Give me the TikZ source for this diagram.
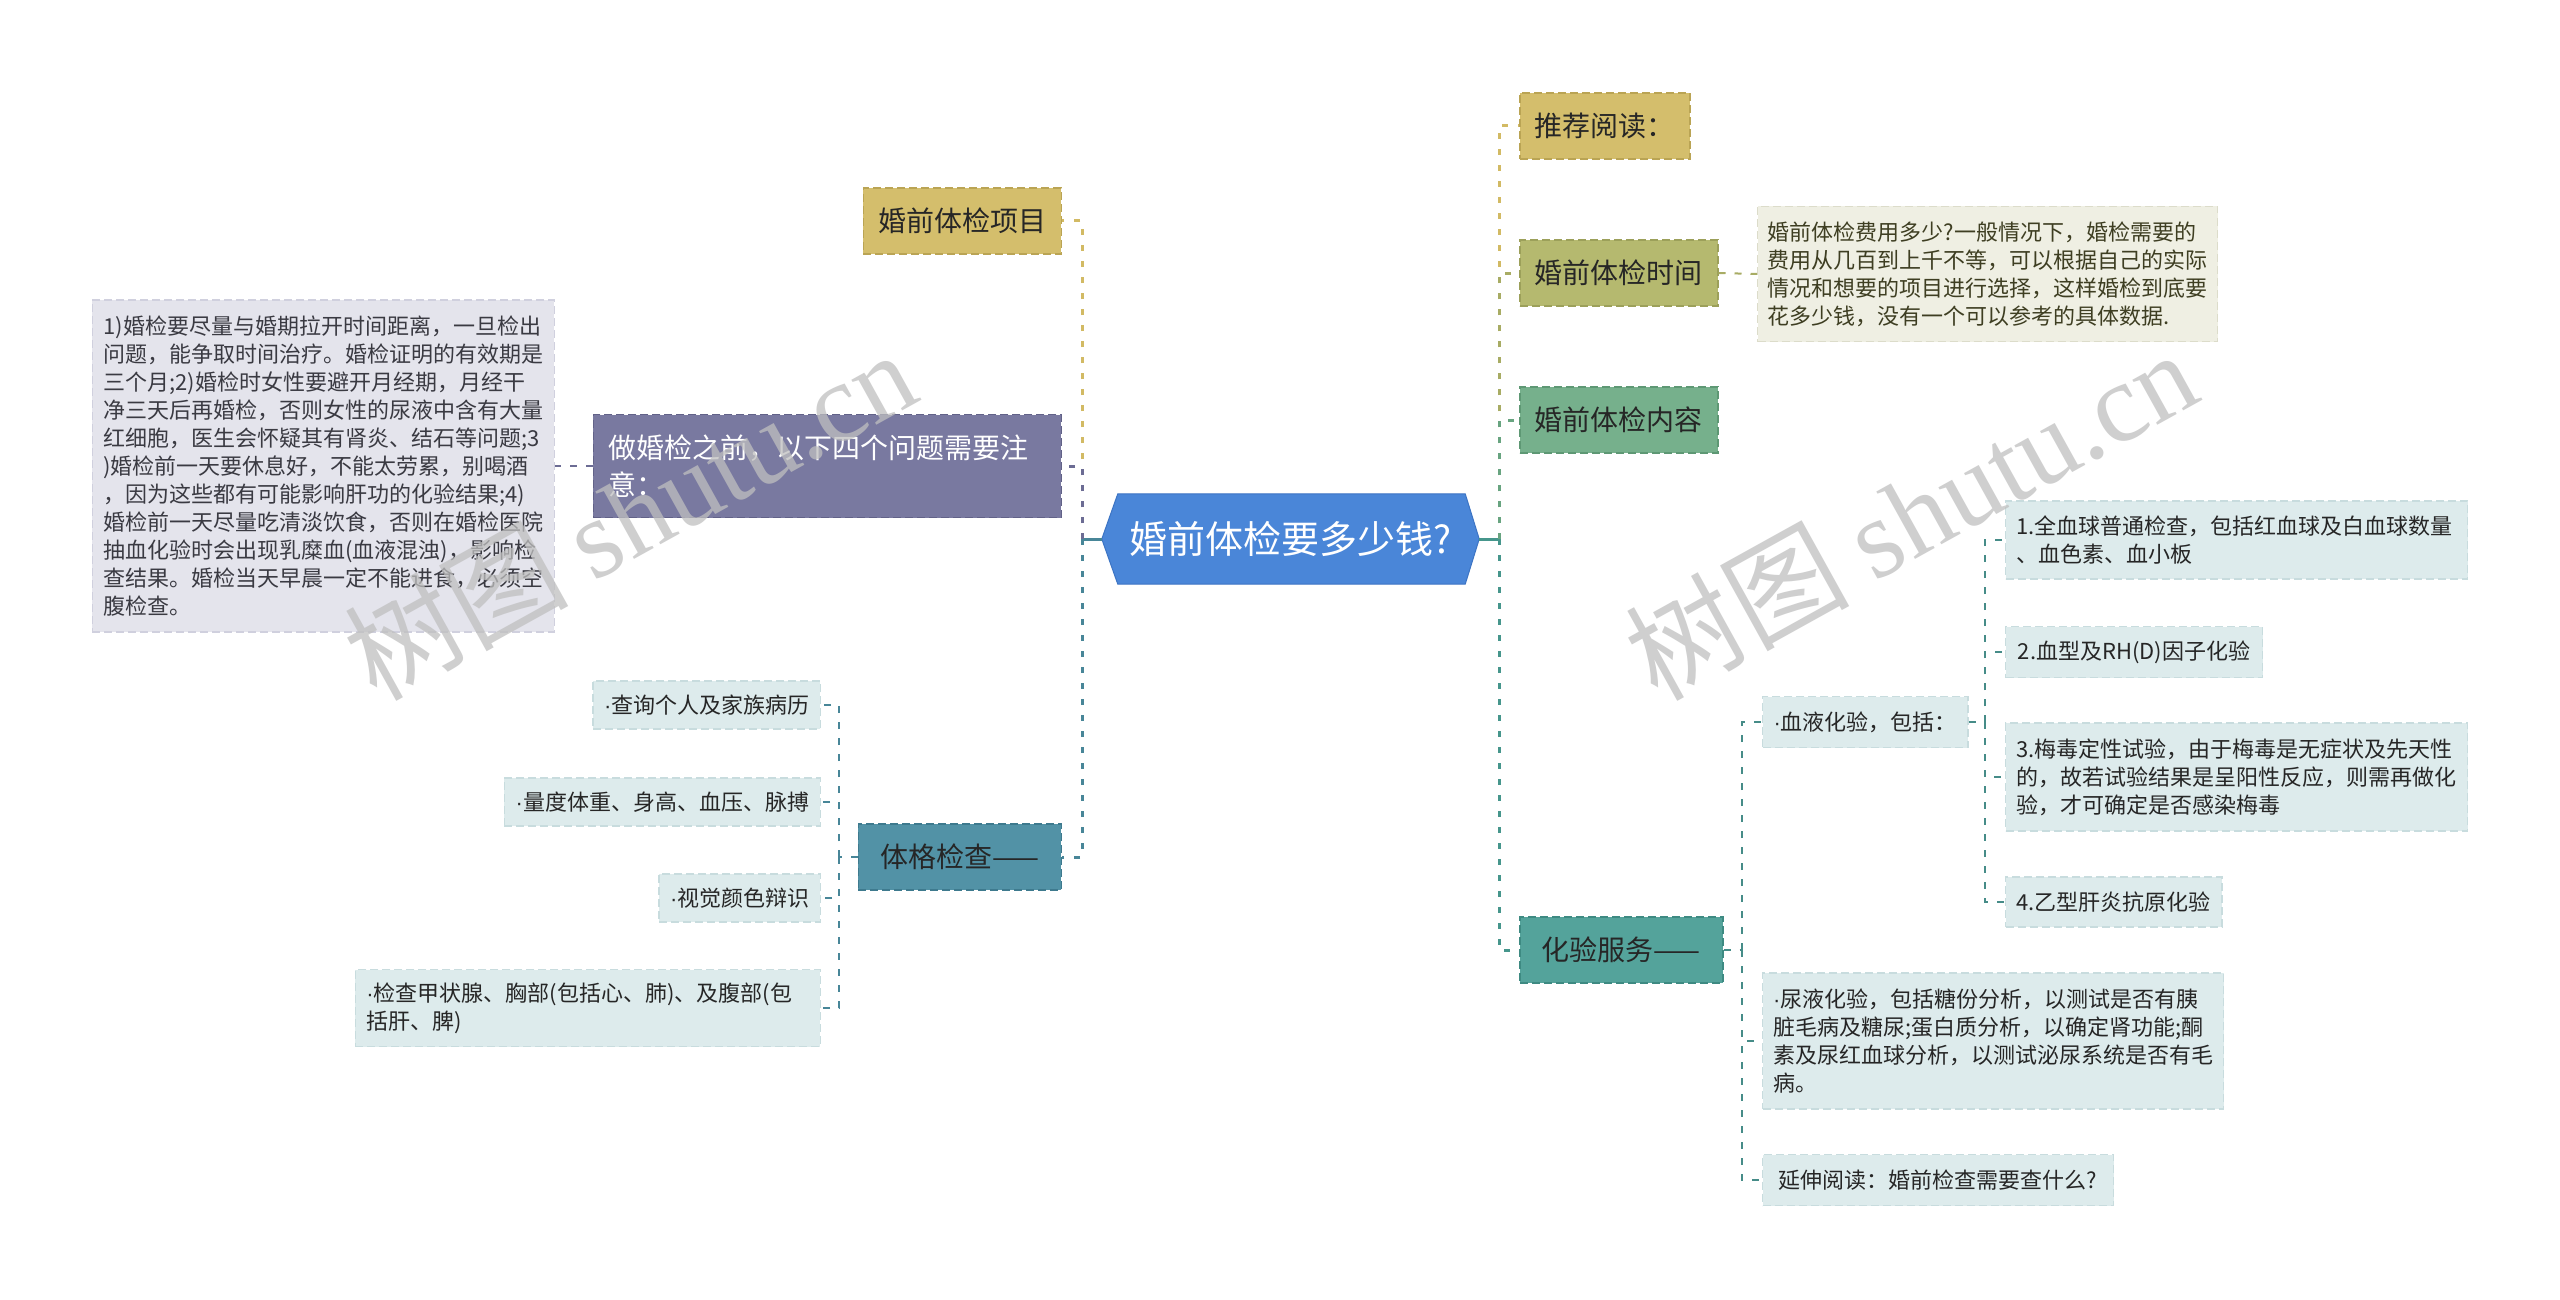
\documentclass[tikz,border=0pt]{standalone}
\usepackage{fontspec}
\setmainfont{Noto Sans CJK SC}
\newfontfamily\wmlatin{Liberation Serif}
\newfontfamily\dotfont{Liberation Sans}
\newcommand\mdot{{\dotfont ·}}
\usetikzlibrary{backgrounds}
\definecolor{cblue}{RGB}{74,134,216}
\definecolor{cblued}{RGB}{60,116,196}
\definecolor{cgold}{RGB}{212,190,108}
\definecolor{cgoldd}{RGB}{186,164,84}
\definecolor{cpurple}{RGB}{121,121,160}
\definecolor{cpurpled}{RGB}{98,98,136}
\definecolor{ctealA}{RGB}{82,146,166}
\definecolor{ctealAd}{RGB}{62,122,142}
\definecolor{colive}{RGB}{181,185,111}
\definecolor{colived}{RGB}{156,160,90}
\definecolor{cgreen}{RGB}{118,176,140}
\definecolor{cgreend}{RGB}{94,152,116}
\definecolor{ctealB}{RGB}{84,163,155}
\definecolor{ctealBd}{RGB}{62,138,130}
\definecolor{clight}{RGB}{221,235,236}
\definecolor{clightd}{RGB}{200,220,222}
\definecolor{cgray}{RGB}{228,228,236}
\definecolor{cgrayd}{RGB}{208,208,222}
\definecolor{cbeige}{RGB}{239,239,227}
\definecolor{cbeiged}{RGB}{220,220,202}
\definecolor{tdark}{RGB}{38,38,38}
\definecolor{tgray}{RGB}{58,58,66}
\definecolor{tolive}{RGB}{62,62,34}
\definecolor{lgold}{RGB}{210,186,100}
\definecolor{lpurple}{RGB}{108,108,148}
\definecolor{ltealA}{RGB}{72,134,152}
\definecolor{lolive}{RGB}{168,172,100}
\definecolor{lgreen}{RGB}{104,164,128}
\definecolor{ltealB}{RGB}{70,150,140}
\definecolor{lconn}{RGB}{70,140,136}
\tikzset{
  bigbox/.style={rectangle, inner xsep=15pt, inner ysep=0pt, minimum height=66pt,
    font=\fontsize{28}{37}\selectfont, line width=1.5pt, dash pattern=on 8pt off 4pt,
    text=tdark, align=left},
  smallbox/.style={rectangle, inner xsep=11pt, inner ysep=0pt,
    font=\fontsize{22}{28}\selectfont, line width=1.2pt, dash pattern=on 8pt off 4pt,
    text=tdark, align=left, fill=clight, draw=clightd},
  trunk/.style={line width=3pt, dash pattern=on 6pt off 10pt},
  twig/.style={line width=2pt, dash pattern=on 7pt off 9pt},
  solidlink/.style={line width=3pt},
  wm/.style={text=black!25, opacity=0.75, inner sep=0pt, rotate=29,
    font=\fontsize{112}{112}\selectfont},
}
\begin{document}
\begin{tikzpicture}[x=1pt,y=-1pt]
\begin{scope}[on background layer]
  \fill[white] (0,0) rectangle (2560,1300);
\end{scope}
\useasboundingbox (0,0) rectangle (2560,1300);

% central topic
\node[rectangle, minimum width=377pt, minimum height=90pt, inner sep=0pt, text=white,
      font=\fontsize{38}{44}\selectfont] (c) at (1290.5,539) {婚前体检要多少钱?};
\begin{scope}[on background layer]
  \filldraw[fill=cblue, draw=cblued, line width=1pt] (c.west) -- ([xshift=16pt]c.north west) -- ([xshift=-14pt]c.north east)
    -- (c.east) -- ([xshift=-14pt]c.south east) -- ([xshift=16pt]c.south west) -- cycle;
\end{scope}

% left branches
\node[bigbox, fill=cgold, draw=cgoldd, minimum width=198pt, anchor=east] (L1) at (1062,221) {婚前体检项目};
\node[bigbox, fill=cpurple, draw=cpurpled, text=white, minimum height=103pt, inner xsep=15.5pt,
      text width=437pt, anchor=east] (L2) at (1062,466) {做婚检之前，以下四个问题需要注\\意：};
\node[smallbox, fill=cgray, draw=cgrayd, text=tgray, minimum height=332pt, text width=440pt,
      anchor=east] (G) at (555,466) {1)婚检要尽量与婚期拉开时间距离，一旦检出\\问题，能争取时间治疗。婚检证明的有效期是\\三个月;2)婚检时女性要避开月经期，月经干\\净三天后再婚检，否则女性的尿液中含有大量\\红细胞，医生会怀疑其有肾炎、结石等问题;3\\)婚检前一天要休息好，不能太劳累，别喝酒\\，因为这些都有可能影响肝功的化验结果;4)\\婚检前一天尽量吃清淡饮食，否则在婚检医院\\抽血化验时会出现乳糜血(血液混浊)，影响检\\查结果。婚检当天早晨一定不能进食，必须空\\腹检查。};
\node[bigbox, fill=ctealA, draw=ctealAd, minimum width=203pt, anchor=east] (L3) at (1062,857) {体格检查——};
\node[smallbox, minimum width=225pt, minimum height=48pt, anchor=east] (p1) at (821,705) {\mdot 查询个人及家族病历};
\node[smallbox, minimum width=316pt, minimum height=48pt, anchor=east] (p2) at (821,802) {\mdot 量度体重、身高、血压、脉搏};
\node[smallbox, minimum width=161pt, minimum height=48pt, anchor=east] (p3) at (821,898) {\mdot 视觉颜色辩识};
\node[smallbox, minimum height=77pt, text width=443pt, anchor=east] (p4) at (821,1008) {\mdot 检查甲状腺、胸部(包括心、肺)、及腹部(包\\括肝、脾)};

% right branches
\node[bigbox, fill=cgold, draw=cgoldd, minimum width=170pt, anchor=west] (R1) at (1519,126) {推荐阅读：};
\node[bigbox, fill=colive, draw=colived, minimum width=198pt, anchor=west] (R2) at (1519,273) {婚前体检时间};
\node[smallbox, fill=cbeige, draw=cbeiged, text=tolive, inner xsep=10pt, minimum height=135pt,
      text width=440pt, anchor=west] (Rt) at (1757,274) {婚前体检费用多少?一般情况下，婚检需要的\\费用从几百到上千不等，可以根据自己的实际\\情况和想要的项目进行选择，这样婚检到底要\\花多少钱，没有一个可以参考的具体数据.};
\node[bigbox, fill=cgreen, draw=cgreend, minimum width=198pt, anchor=west] (R3) at (1519,420) {婚前体检内容};
\node[bigbox, fill=ctealB, draw=ctealBd, minimum width=203pt, anchor=west] (R4) at (1519,950) {化验服务——};
\node[smallbox, minimum width=203pt, minimum height=51pt, anchor=west] (h1) at (1762,722) {\mdot 血液化验，包括：};
\node[smallbox, minimum height=136pt, inner xsep=10.5pt, text width=440pt, anchor=west] (h2) at (1762,1041) {\mdot 尿液化验，包括糖份分析，以测试是否有胰\\脏毛病及糖尿;蛋白质分析，以确定肾功能;酮\\素及尿红血球分析，以测试泌尿系统是否有毛\\病。};
\node[smallbox, minimum width=351pt, minimum height=51pt, anchor=west] (h3) at (1762,1180) {延伸阅读：婚前检查需要查什么?};
\node[smallbox, minimum height=78pt, text width=440pt, anchor=west] (b1) at (2005,540) {1.全血球普通检查，包括红血球及白血球数量\\、血色素、血小板};
\node[smallbox, minimum width=257pt, minimum height=51pt, anchor=west] (b2) at (2005,652) {2.血型及RH(D)因子化验};
\node[smallbox, minimum height=108pt, text width=440pt, anchor=west] (b3) at (2005,777) {3.梅毒定性试验，由于梅毒是无症状及先天性\\的，故若试验结果是呈阳性反应，则需再做化\\验，才可确定是否感染梅毒};
\node[smallbox, minimum width=216pt, minimum height=50pt, anchor=west] (b4) at (2005,902) {4.乙型肝炎抗原化验};

% junction points
\coordinate (LT) at (1082,539);
\coordinate (RT) at (1499,539);
\coordinate (TJ) at (839,857);
\coordinate (HJ) at (1742,950);
\coordinate (BJ) at (1985,722);

% connectors, centre
\draw[solidlink, ltealA] (c.west) -- (LT);
\draw[solidlink, ltealB] (c.east) -- (RT);
% left trunk
\draw[trunk, lgold] (LT) |- (L1.east);
\draw[trunk, lpurple] (LT) |- (L2.east);
\draw[trunk, ltealA] (LT) |- (L3.east);
\draw[twig, lpurple] (L2.west) -- (G.east);
\draw[twig, ltealA] (L3.west) -- (TJ);
\foreach \n in {p1,p2,p3,p4} \draw[twig, ltealA] (TJ) |- (\n.east);
% right trunk
\draw[trunk, lgold] (RT) |- (R1.west);
\draw[trunk, lolive] (RT) |- (R2.west);
\draw[trunk, lgreen] (RT) |- (R3.west);
\draw[trunk, ltealB] (RT) |- (R4.west);
\draw[twig, lolive] (R2.east) -- (Rt.west);
\draw[twig, lconn] (R4.east) -- (HJ);
\foreach \n in {h1,h2,h3} \draw[twig, lconn] (HJ) |- (\n.west);
\draw[twig, lconn] (h1.east) -- (BJ);
\foreach \n in {b1,b2,b3,b4} \draw[twig, lconn] (BJ) |- (\n.west);

% watermarks
\node[wm] (w1) at (629,514) {树图 {\wmlatin shutu.cn}};
\node[wm] (w2) at (1910,514) {树图 {\wmlatin shutu.cn}};
\end{tikzpicture}
\end{document}
